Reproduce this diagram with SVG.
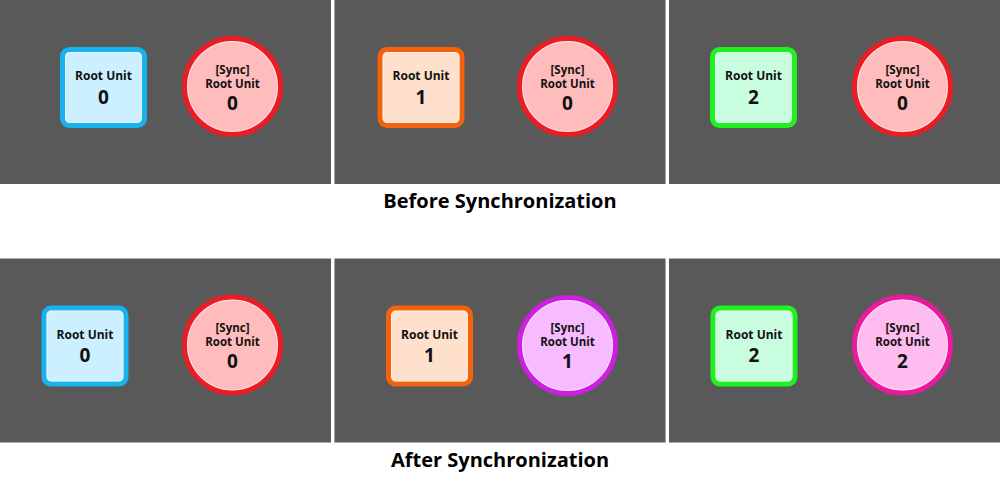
<svg xmlns="http://www.w3.org/2000/svg" width="1000" height="489" viewBox="0 0 1000 489">
<style>
.panel{fill:#595959}
.t{font-family:"Open Sans","Noto Sans",sans-serif;font-weight:bold;fill:#111;text-anchor:middle}
.lbl{font-size:12px}
.clbl{font-size:11.5px}
.num{font-size:19px}
.title{font-size:20px;fill:#000}
.inner{fill:none;stroke:#ffffff;stroke-opacity:0.55;stroke-width:1}
.sq{stroke-width:5}
.ci{stroke-width:5}
.blue{fill:#ccf0ff;stroke:#18b2ee}
.orange{fill:#ffe0cc;stroke:#f4620e}
.green{fill:#c8fde0;stroke:#1ff01f}
.red{fill:#ffbcbc;stroke:#ec1c24}
.purple{fill:#f6bcff;stroke:#cc1fe0}
.pink{fill:#ffbcee;stroke:#ea1a9c}
</style>
<rect width="1000" height="489" fill="#ffffff"/>
<g id="panels">
<rect class="panel" x="0" y="0" width="331" height="184"/>
<rect class="panel" x="334.5" y="0" width="331" height="184"/>
<rect class="panel" x="669" y="0" width="331" height="184"/>
<rect class="panel" x="0" y="258.5" width="331" height="184"/>
<rect class="panel" x="334.5" y="258.5" width="331" height="184"/>
<rect class="panel" x="669" y="258.5" width="331" height="184"/>
</g>
<g id="connectors"></g>

<g id="b-root0">
<rect class="sq blue" x="62.5" y="49.5" width="82" height="76" rx="7"/>
<rect class="inner" x="65.5" y="52.5" width="76" height="70" rx="5"/>
<text class="t lbl" x="103.5" y="80">Root Unit</text>
<text class="t num" x="103.5" y="104">0</text>
</g>
<g id="b-sync0">
<circle class="ci red" cx="232.5" cy="86.5" r="48"/>
<circle class="inner" cx="232.5" cy="86.5" r="45"/>
<text class="t clbl" x="232.5" y="74">[Sync]</text>
<text class="t clbl" x="232.5" y="88">Root Unit</text>
<text class="t num" x="232.5" y="110">0</text>
</g>

<g id="b-root1">
<rect class="sq orange" x="380" y="49.5" width="82" height="76" rx="7"/>
<rect class="inner" x="383" y="52.5" width="76" height="70" rx="5"/>
<text class="t lbl" x="421" y="80">Root Unit</text>
<text class="t num" x="421" y="104">1</text>
</g>
<g id="b-sync1">
<circle class="ci red" cx="567.5" cy="86.5" r="48"/>
<circle class="inner" cx="567.5" cy="86.5" r="45"/>
<text class="t clbl" x="567.5" y="74">[Sync]</text>
<text class="t clbl" x="567.5" y="88">Root Unit</text>
<text class="t num" x="567.5" y="110">0</text>
</g>

<g id="b-root2">
<rect class="sq green" x="712.5" y="49.5" width="82" height="76" rx="7"/>
<rect class="inner" x="715.5" y="52.5" width="76" height="70" rx="5"/>
<text class="t lbl" x="753.5" y="80">Root Unit</text>
<text class="t num" x="753.5" y="104">2</text>
</g>
<g id="b-sync2">
<circle class="ci red" cx="902.5" cy="86.5" r="48"/>
<circle class="inner" cx="902.5" cy="86.5" r="45"/>
<text class="t clbl" x="902.5" y="74">[Sync]</text>
<text class="t clbl" x="902.5" y="88">Root Unit</text>
<text class="t num" x="902.5" y="110">0</text>
</g>

<text id="title-before" class="t title" x="500" y="208">Before Synchronization</text>

<g id="a-root0">
<rect class="sq blue" x="44" y="308" width="82" height="76" rx="7"/>
<rect class="inner" x="47" y="311" width="76" height="70" rx="5"/>
<text class="t lbl" x="85" y="339">Root Unit</text>
<text class="t num" x="85" y="362">0</text>
</g>
<g id="a-sync0">
<circle class="ci red" cx="232.5" cy="345" r="48"/>
<circle class="inner" cx="232.5" cy="345" r="45"/>
<text class="t clbl" x="232.5" y="332">[Sync]</text>
<text class="t clbl" x="232.5" y="346">Root Unit</text>
<text class="t num" x="232.5" y="368">0</text>
</g>

<g id="a-root1">
<rect class="sq orange" x="388.5" y="308" width="82" height="76" rx="7"/>
<rect class="inner" x="391.5" y="311" width="76" height="70" rx="5"/>
<text class="t lbl" x="429.5" y="339">Root Unit</text>
<text class="t num" x="429.5" y="362">1</text>
</g>
<g id="a-sync1">
<circle class="ci purple" cx="567.5" cy="345.5" r="48"/>
<circle class="inner" cx="567.5" cy="345.5" r="45"/>
<text class="t clbl" x="567.5" y="332">[Sync]</text>
<text class="t clbl" x="567.5" y="346">Root Unit</text>
<text class="t num" x="567.5" y="368">1</text>
</g>

<g id="a-root2">
<rect class="sq green" x="713" y="308" width="82" height="76" rx="7"/>
<rect class="inner" x="716" y="311" width="76" height="70" rx="5"/>
<text class="t lbl" x="754" y="339">Root Unit</text>
<text class="t num" x="754" y="362">2</text>
</g>
<g id="a-sync2">
<circle class="ci pink" cx="902.5" cy="345" r="48"/>
<circle class="inner" cx="902.5" cy="345" r="45"/>
<text class="t clbl" x="902.5" y="332">[Sync]</text>
<text class="t clbl" x="902.5" y="346">Root Unit</text>
<text class="t num" x="902.5" y="368">2</text>
</g>

<text id="title-after" class="t title" x="500" y="467">After Synchronization</text>
</svg>
